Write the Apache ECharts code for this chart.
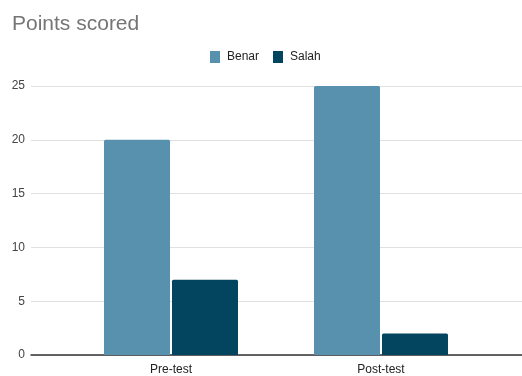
<!DOCTYPE html>
<html>
<head>
<meta charset="utf-8">
<script src="https://cdn.jsdelivr.net/npm/echarts@6/dist/echarts.min.js"></script>
<style>
  html, body { margin: 0; padding: 0; background: #fff; }
  #chart { width: 522px; height: 376px; }
</style>
</head>
<body>
<div id="chart"></div>
<script>
// Chart data
const categories = ['Pre-test', 'Post-test'];
const benar = [20, 25];
const salah = [7, 2];
const yTicks = [0, 5, 10, 15, 20, 25];

const chart = echarts.init(document.getElementById('chart'));
const font = "'Liberation Sans', Arial, sans-serif";

chart.setOption({
  animation: false,
  backgroundColor: '#ffffff',
  title: {
    text: 'Points scored',
    left: 7,
    top: 9,
    textStyle: { fontFamily: font, fontSize: 21, fontWeight: 'normal', color: '#757575' }
  },
  legend: {
    data: ['Benar', 'Salah'],
    left: 205,
    top: 46,
    itemWidth: 10,
    itemHeight: 12,
    itemGap: 14,
    icon: 'rect',
    textStyle: { fontFamily: font, fontSize: 12, color: '#222', padding: [0, 0, 0, 2] }
  },
  grid: [
    // full-width grid carrying the value axis, gridlines and baseline
    { left: 31, right: 0, top: 86, bottom: 21 },
    // inner grid holding the bars and category labels
    { left: 66, right: 36, top: 86, bottom: 21 }
  ],
  xAxis: [
    {
      gridIndex: 0, type: 'category', data: [''],
      axisLine: { show: true, lineStyle: { color: '#333', width: 1.5 } },
      axisTick: { show: false }, axisLabel: { show: false }
    },
    {
      gridIndex: 1, type: 'category', data: categories,
      axisLine: { show: false }, axisTick: { show: false },
      axisLabel: { fontFamily: font, fontSize: 12, color: '#222', margin: 9 }
    }
  ],
  yAxis: [
    {
      gridIndex: 0, type: 'value', min: yTicks[0], max: yTicks[yTicks.length - 1], interval: 5,
      axisLine: { show: false }, axisTick: { show: false },
      axisLabel: { fontFamily: font, fontSize: 12, color: '#444', margin: 6 },
      splitLine: { lineStyle: { color: '#e0e0e0', width: 1 } }
    },
    {
      gridIndex: 1, type: 'value', min: yTicks[0], max: yTicks[yTicks.length - 1], interval: 5,
      show: false
    }
  ],
  series: [
    {
      name: 'Benar', type: 'bar', xAxisIndex: 1, yAxisIndex: 1, data: benar,
      barWidth: 66, barGap: '3%',
      itemStyle: { color: '#5891ad', borderRadius: [1.5, 1.5, 0, 0] }
    },
    {
      name: 'Salah', type: 'bar', xAxisIndex: 1, yAxisIndex: 1, data: salah,
      barWidth: 66, barGap: '3%',
      itemStyle: { color: '#03455f', borderRadius: [1.5, 1.5, 0, 0] }
    }
  ]
});
</script>
</body>
</html>
